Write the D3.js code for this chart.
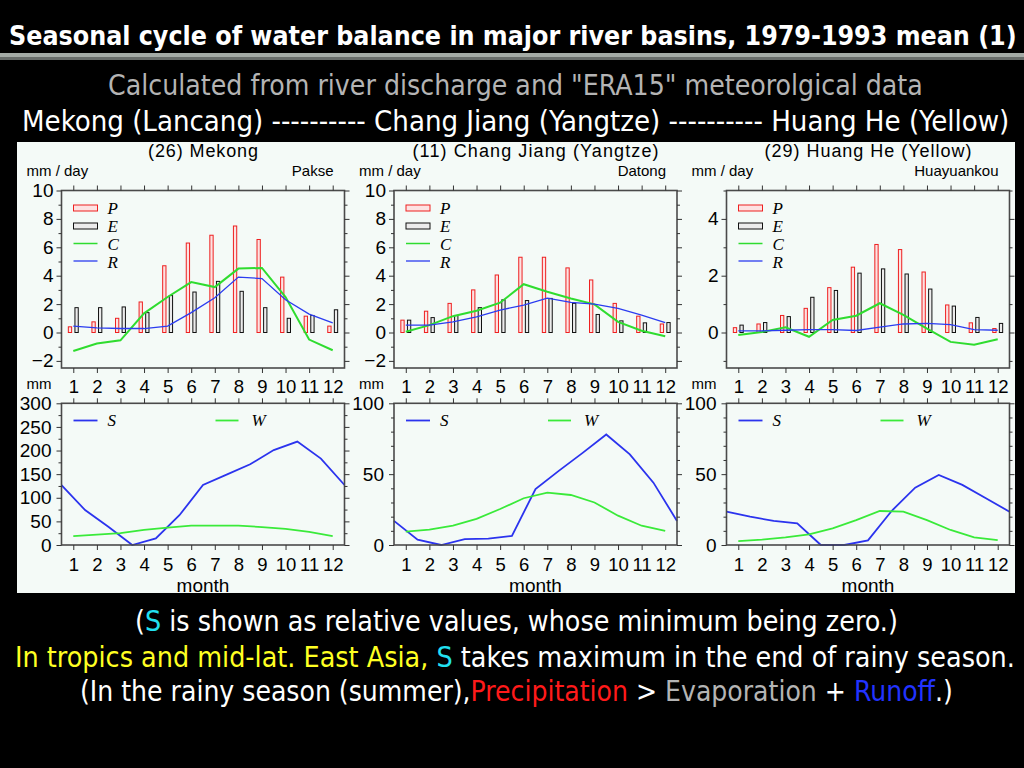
<!DOCTYPE html>
<html><head><meta charset="utf-8">
<script src="https://cdn.jsdelivr.net/npm/d3@7"></script>
<style>body{margin:0;background:#000;}svg{display:block}</style>
</head><body>
<svg id="c" width="1024" height="768"></svg>
<script>
// ---------- data ----------
const months = [1,2,3,4,5,6,7,8,9,10,11,12];
const halfMonths = [0.5,1.5,2.5,3.5,4.5,5.5,6.5,7.5,8.5,9.5,10.5,11.5,12.5];
const basinTitles = ["(26) Mekong", "(11) Chang Jiang (Yangtze)", "(29) Huang He (Yellow)"];
const stations = ["Pakse", "Datong", "Huayuankou"];

// upper panels (mm/day)
const mekongP = [0.4,0.75,1.0,2.15,4.7,6.3,6.85,7.5,6.55,3.9,1.15,0.45];
const mekongE = [1.75,1.75,1.8,1.4,2.6,2.85,3.6,2.9,1.75,1.0,1.2,1.6];
const mekongC = [-1.3,-0.78,-0.55,1.35,2.5,3.55,3.2,4.5,4.55,2.5,-0.5,-1.25];
const mekongR = [0.45,0.33,0.28,0.28,0.45,1.4,2.45,3.9,3.8,2.3,1.3,0.68];

const changP = [0.87,1.5,2.05,3.0,4.05,5.3,5.3,4.55,3.7,2.05,1.15,0.6];
const changE = [0.87,1.05,1.2,1.75,2.3,2.25,2.4,2.05,1.27,0.82,0.68,0.7];
const changC = [0.05,0.52,1.15,1.53,2.1,3.4,2.87,2.4,1.98,0.75,0.12,-0.26];
const changR = [0.52,0.52,0.75,1.1,1.58,1.93,2.42,2.12,2.0,1.7,1.22,0.7];

const huangP = [0.17,0.3,0.6,0.85,1.58,2.3,3.1,2.92,2.13,0.97,0.34,0.14];
const huangE = [0.26,0.35,0.56,1.24,1.48,2.09,2.24,2.06,1.53,0.93,0.53,0.32];
const huangC = [-0.09,0.02,0.18,-0.15,0.44,0.59,1.03,0.62,0.14,-0.33,-0.43,-0.24];
const huangR = [0.06,0.06,0.08,0.1,0.1,0.07,0.19,0.3,0.32,0.28,0.1,0.08];

// lower panels (mm); S at month boundaries, W at months
const mekongS = [127,74,38,0,14,63,127,149,171,201,219,183,127];
const mekongW = [19,22,25,32,37,41,41,41,38,34,28,19];
const changS = [17,3.8,0,4.2,4.5,6.4,39.5,52.5,65,78,64,44,17];
const changW = [9.4,10.8,13.6,18.4,25.4,33,37,35.3,30,20.7,13.6,9.9];
const huangS = [23.5,20,17,15.3,0,0,3.3,24,40.5,49.4,42.4,33,23.5];
const huangW = [2.8,3.8,5.4,7.5,11.8,17.6,24,23.5,17.6,10.6,5.4,3.5];

const upperDomains = [[-2.5,10],[-2.5,10],[-1.25,5]];
const upperTicks = [[-2,0,2,4,6,8,10],[-2,0,2,4,6,8,10],[0,2,4]];
const upperMinor = [[-1,1,3,5,7,9],[-1,1,3,5,7,9],[-1,1,3,5]];
const lowerDomains = [[0,300],[0,100],[0,100]];
const lowerTicks = [[0,50,100,150,200,250,300],[0,50,100],[0,50,100]];
const lowerMinor = [[25,75,125,175,225,275],[10,20,30,40,60,70,80,90],[10,20,30,40,60,70,80,90]];

const basins = [
  {P:mekongP,E:mekongE,C:mekongC,R:mekongR,S:mekongS,W:mekongW},
  {P:changP,E:changE,C:changC,R:changR,S:changS,W:changW},
  {P:huangP,E:huangE,C:huangC,R:huangR,S:huangS,W:huangW}
];

// ---------- drawing ----------
const svg = d3.select("#c");
svg.append("rect").attr("width",1024).attr("height",768).attr("fill","#000");

const narrow = "'Liberation Sans Narrow','DejaVu Sans Condensed','Open Sans',sans-serif";

// squeeze a text horizontally to a target width using a transform
function fitText(t, x, y, width){
  const natural = t.node().getComputedTextLength();
  const sx = width / natural;
  t.attr("x",0).attr("y",0).attr("transform",`translate(${x},${y}) scale(${sx},1)`);
  return t;
}

// header
fitText(svg.append("text").attr("fill","#fff")
  .attr("font-family","'DejaVu Sans Condensed','DejaVu Sans',sans-serif").attr("font-weight","bold")
  .attr("font-size",27)
  .text("Seasonal cycle of water balance in major river basins, 1979-1993 mean (1)"), 9, 45, 1008);
svg.append("rect").attr("x",0).attr("y",53).attr("width",1024).attr("height",4).attr("fill","#a3aaa5");
svg.append("rect").attr("x",0).attr("y",57).attr("width",1024).attr("height",3).attr("fill","#676c69");

fitText(svg.append("text").attr("fill","#b4b4b4").attr("font-family",narrow).attr("font-size",28)
  .text('Calculated from river discharge and "ERA15" meteorolgical data'), 108, 95, 815);
fitText(svg.append("text").attr("fill","#fff").attr("font-family",narrow).attr("font-size",28)
  .text("Mekong (Lancang) ---------- Chang Jiang (Yangtze) ---------- Huang He (Yellow)"), 22, 131, 988);

// white chart area
svg.append("rect").attr("x",17).attr("y",142).attr("width",998).attr("height",451).attr("fill","#f4faf7");

const sans = "'Liberation Sans',Arial,sans-serif";
const serif = "'Liberation Serif','Times New Roman',serif";
const lefts = [61.5, 394, 726.5];
const titleLens = [110, 246, 207];
const W = 283;
const upTop = 190.5, upBot = 368, loTop = 403.3, loBot = 545;
const colP = "#ee2020", colE = "#111", colC = "#2fdc2f", colR = "#2b3cf0", colS = "#2b33ee", colW = "#3aea3a";
const fillP = "#fde2e2", fillE = "#ececec";

function styleAxis(g, fs){
  g.select(".domain").remove();
  g.selectAll("line").attr("stroke","#333").attr("stroke-width",1);
  g.selectAll("text").attr("font-family",sans).attr("font-size",fs||19).attr("fill","#000");
}

basins.forEach((b,i)=>{
  const L = lefts[i];
  const x = d3.scaleLinear().domain([0.5,12.5]).range([L, L+W]);
  const yU = d3.scaleLinear().domain(upperDomains[i]).range([upBot, upTop]);
  const yL = d3.scaleLinear().domain(lowerDomains[i]).range([loBot, loTop]);
  const g = svg.append("g");

  // titles
  g.append("text").attr("x",L+141.5-titleLens[i]/2).attr("y",157)
    .attr("font-family",sans).attr("font-size",18).attr("textLength",titleLens[i]).attr("lengthAdjust","spacing").text(basinTitles[i]);
  g.append("text").attr("x",L-35).attr("y",176).attr("font-family",sans).attr("font-size",15).text("mm / day");
  g.append("text").attr("x",L+272).attr("y",176).attr("text-anchor","end").attr("font-family",sans).attr("font-size",15).text(stations[i]);

  // ----- upper panel -----
  const y0 = yU(0);
  g.selectAll(".pbar").data(months).enter().append("rect")
    .attr("x",m=>x(m-0.21)).attr("width",m=>x(m-0.07)-x(m-0.21))
    .attr("y",(m,j)=>Math.min(yU(b.P[j]),y0)).attr("height",(m,j)=>Math.abs(yU(b.P[j])-y0))
    .attr("fill",fillP).attr("stroke",colP).attr("stroke-width",1);
  g.selectAll(".ebar").data(months).enter().append("rect")
    .attr("x",m=>x(m+0.07)).attr("width",m=>x(m+0.21)-x(m+0.07))
    .attr("y",(m,j)=>Math.min(yU(b.E[j]),y0)).attr("height",(m,j)=>Math.abs(yU(b.E[j])-y0))
    .attr("fill",fillE).attr("stroke",colE).attr("stroke-width",1);
  const lineU = arr => d3.line().x((d,j)=>x(months[j])).y(d=>yU(d))(arr);
  g.append("path").attr("d",lineU(b.C)).attr("fill","none").attr("stroke",colC).attr("stroke-width",2);
  g.append("path").attr("d",lineU(b.R)).attr("fill","none").attr("stroke",colR).attr("stroke-width",1.3);

  // legend upper
  const lg = g.append("g");
  lg.append("rect").attr("x",L+12).attr("y",205).attr("width",24).attr("height",6).attr("fill",fillP).attr("stroke",colP);
  lg.append("rect").attr("x",L+12).attr("y",223).attr("width",24).attr("height",6).attr("fill",fillE).attr("stroke",colE);
  lg.append("line").attr("x1",L+12).attr("x2",L+36).attr("y1",243.5).attr("y2",243.5).attr("stroke",colC).attr("stroke-width",1.5);
  lg.append("line").attr("x1",L+12).attr("x2",L+36).attr("y1",261).attr("y2",261).attr("stroke",colR).attr("stroke-width",1.3);
  [["P",214],["E",232],["C",250],["R",268]].forEach(([t,yy])=>{
    lg.append("text").attr("x",L+46).attr("y",yy).attr("font-family",serif).attr("font-style","italic").attr("font-size",17).text(t);
  });

  // frame + axes upper
  g.append("rect").attr("x",L).attr("y",upTop).attr("width",W).attr("height",upBot-upTop)
    .attr("fill","none").attr("stroke","#4a4a4a").attr("stroke-width",1.6);
  g.append("g").attr("transform",`translate(${L},0)`).call(d3.axisLeft(yU).tickValues(upperTicks[i]).tickSize(5).tickPadding(3).tickFormat(d3.format("d"))).call(styleAxis,19);
  g.append("g").attr("transform",`translate(${L},0)`).call(d3.axisLeft(yU).tickValues(upperMinor[i]).tickSize(3).tickFormat("")).call(styleAxis);
  g.append("g").attr("transform",`translate(${L+W},0)`).call(d3.axisRight(yU).tickValues(upperTicks[i]).tickSize(5).tickFormat("")).call(styleAxis);
  g.append("g").attr("transform",`translate(${L+W},0)`).call(d3.axisRight(yU).tickValues(upperMinor[i]).tickSize(3).tickFormat("")).call(styleAxis);
  g.append("g").attr("transform",`translate(0,${upTop})`).call(d3.axisTop(x).tickValues(months).tickSize(5).tickFormat("")).call(styleAxis);
  g.append("g").attr("transform",`translate(0,${upBot})`).call(d3.axisBottom(x).tickValues(months).tickSize(5).tickFormat("")).call(styleAxis);

  // ----- lower panel -----
  g.append("path").attr("d",d3.line().x((d,j)=>x(halfMonths[j])).y(d=>yL(d))(b.S))
    .attr("fill","none").attr("stroke",colS).attr("stroke-width",1.8);
  g.append("path").attr("d",d3.line().x((d,j)=>x(months[j])).y(d=>yL(d))(b.W))
    .attr("fill","none").attr("stroke",colW).attr("stroke-width",1.8);
  g.append("line").attr("x1",L+12).attr("x2",L+36).attr("y1",420.5).attr("y2",420.5).attr("stroke",colS).attr("stroke-width",1.8);
  g.append("text").attr("x",L+46).attr("y",426).attr("font-family",serif).attr("font-style","italic").attr("font-size",17).text("S");
  g.append("line").attr("x1",L+154).attr("x2",L+177).attr("y1",420.5).attr("y2",420.5).attr("stroke",colW).attr("stroke-width",1.8);
  g.append("text").attr("x",L+190).attr("y",426).attr("font-family",serif).attr("font-style","italic").attr("font-size",17).text("W");

  g.append("rect").attr("x",L).attr("y",loTop).attr("width",W).attr("height",loBot-loTop)
    .attr("fill","none").attr("stroke","#4a4a4a").attr("stroke-width",1.6);
  g.append("g").attr("transform",`translate(${L},0)`).call(d3.axisLeft(yL).tickValues(lowerTicks[i]).tickSize(5).tickPadding(5)).call(styleAxis,19);
  g.append("g").attr("transform",`translate(${L},0)`).call(d3.axisLeft(yL).tickValues(lowerMinor[i]).tickSize(3).tickFormat("")).call(styleAxis);
  g.append("g").attr("transform",`translate(${L+W},0)`).call(d3.axisRight(yL).tickValues(lowerTicks[i]).tickSize(5).tickFormat("")).call(styleAxis);
  g.append("g").attr("transform",`translate(${L+W},0)`).call(d3.axisRight(yL).tickValues(lowerMinor[i]).tickSize(3).tickFormat("")).call(styleAxis);
  g.append("g").attr("transform",`translate(0,${loTop})`).call(d3.axisTop(x).tickValues(months).tickSize(5).tickPadding(5)).call(styleAxis,18.5);
  g.append("g").attr("transform",`translate(0,${loBot})`).call(d3.axisBottom(x).tickValues(months).tickSize(5).tickPadding(8)).call(styleAxis,18.5);

  g.append("text").attr("x",L-35).attr("y",389).attr("font-family",sans).attr("font-size",15).text("mm");
  g.append("text").attr("x",L+141.5).attr("y",592).attr("text-anchor","middle").attr("font-family",sans).attr("font-size",19).text("month");
});

// footer
function multi(y, x, len, parts){
  const t = svg.append("text").attr("font-family",narrow).attr("font-size",28).attr("xml:space","preserve");
  parts.forEach(([s,c])=>t.append("tspan").attr("fill",c).text(s));
  fitText(t, x, y, len);
}
multi(631, 135, 763, [["(","#fff"],["S","#22e0f0"],[" is shown as relative values, whose minimum being zero.)","#fff"]]);
multi(667, 15, 1000, [["In tropics and mid-lat. East Asia, ","#ffff22"],["S","#22e0f0"],[" takes maximum in the end of rainy season.","#fff"]]);
multi(701, 80, 873, [["(In the rainy season (summer),","#fff"],["Precipitation","#ff1a1a"],[" > ","#fff"],["Evaporation","#b4b4b4"],[" + ","#fff"],["Runoff","#2233ff"],[".)","#fff"]]);
</script>
</body></html>
